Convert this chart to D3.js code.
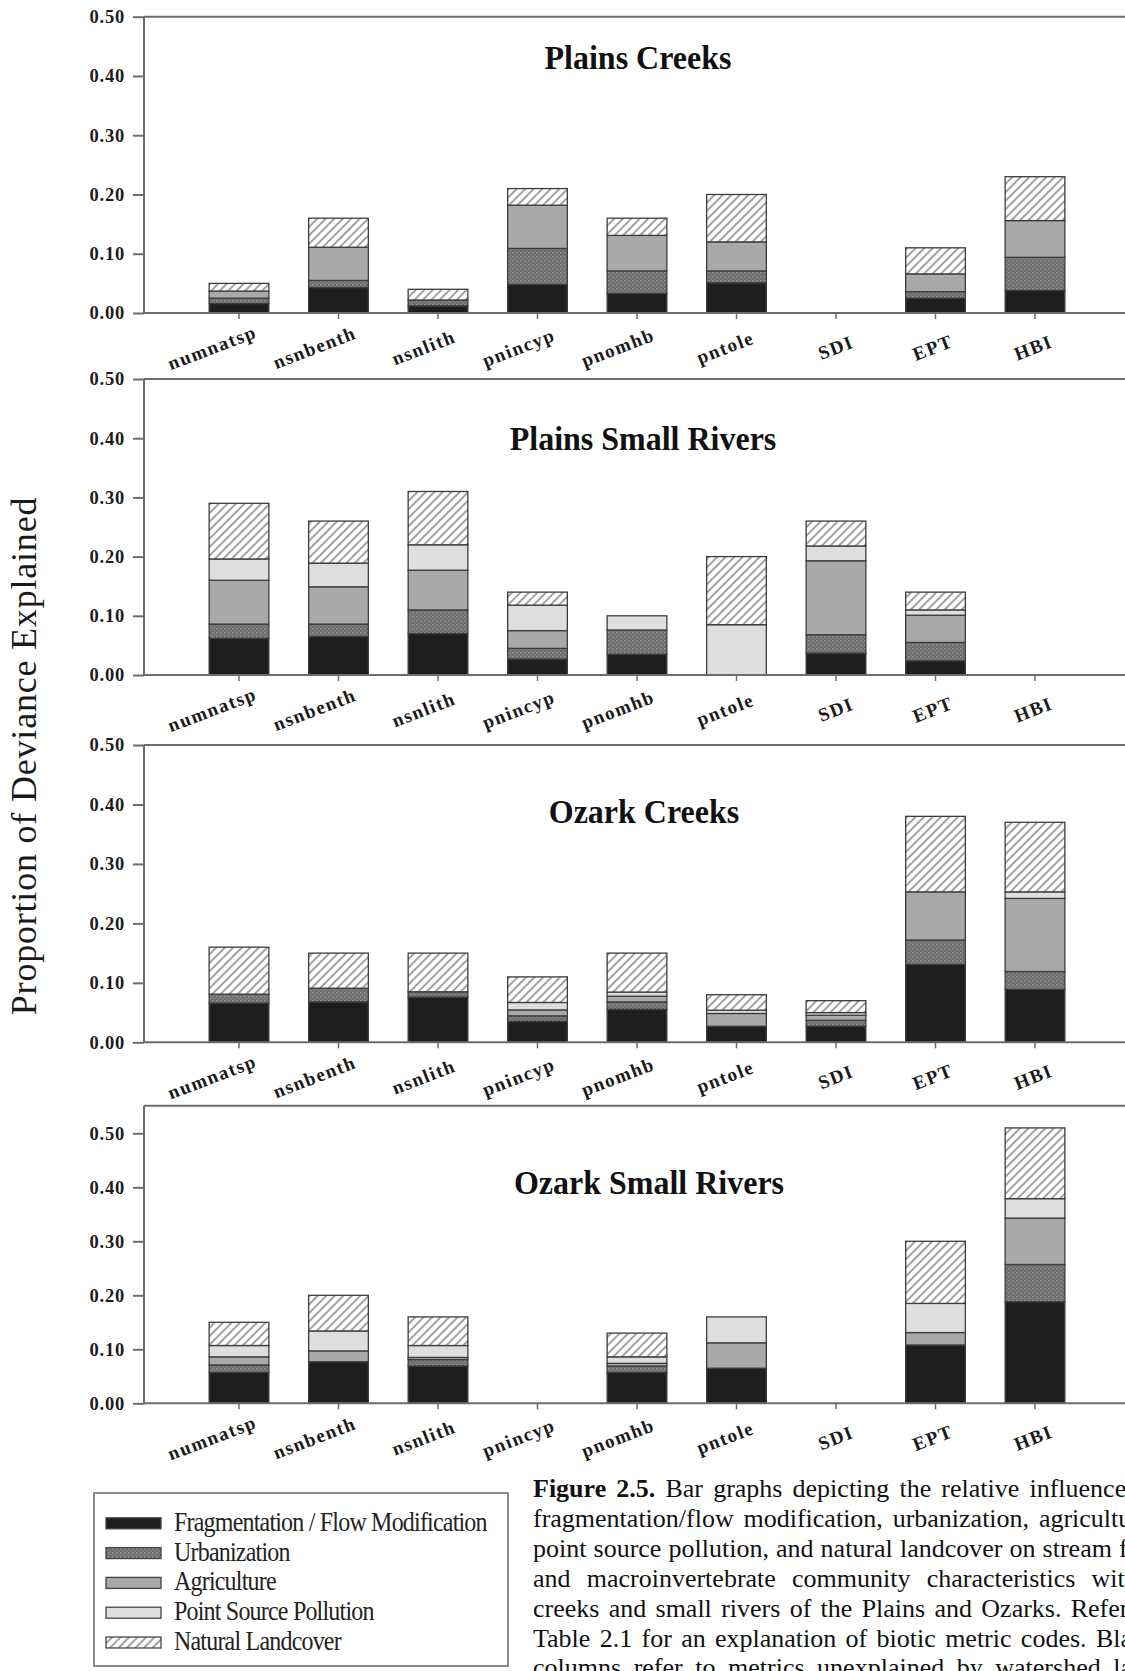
<!DOCTYPE html>
<html>
<head>
<meta charset="utf-8">
<script src="https://cdn.jsdelivr.net/npm/d3@7"></script>
<style>
  html, body { margin: 0; padding: 0; background: #ffffff; }
  svg { display: block; }
</style>
</head>
<body>
<svg id="fig" width="1125" height="1671"></svg>
<script>
// ---- Data -------------------------------------------------------------
const categories = ["numnatsp", "nsnbenth", "nsnlith", "pnincyp", "pnomhb", "pntole", "SDI", "EPT", "HBI"];
const factorKeys = ["frag", "urban", "agri", "ps", "nat"];
const factorNames = ["Fragmentation / Flow Modification", "Urbanization", "Agriculture",
                     "Point Source Pollution", "Natural Landcover"];
const panelTitles = ["Plains Creeks", "Plains Small Rivers", "Ozark Creeks", "Ozark Small Rivers"];
const yTickValues = [0, 0.1, 0.2, 0.3, 0.4, 0.5];

// Plains Creeks
const plainsCreeksFrag  = [0.016, 0.043, 0.012, 0.048, 0.033, 0.051, 0, 0.025, 0.038];
const plainsCreeksUrban = [0.009, 0.012, 0.010, 0.061, 0.038, 0.020, 0, 0.011, 0.056];
const plainsCreeksAgri  = [0.012, 0.056, 0.000, 0.073, 0.060, 0.049, 0, 0.030, 0.062];
const plainsCreeksPS    = [0, 0, 0, 0, 0, 0, 0, 0, 0];
const plainsCreeksNat   = [0.013, 0.049, 0.018, 0.028, 0.029, 0.080, 0, 0.044, 0.074];

// Plains Small Rivers
const plainsRiversFrag  = [0.062, 0.065, 0.070, 0.027, 0.035, 0.000, 0.037, 0.024, 0];
const plainsRiversUrban = [0.024, 0.021, 0.040, 0.018, 0.041, 0.000, 0.031, 0.031, 0];
const plainsRiversAgri  = [0.074, 0.063, 0.067, 0.030, 0.000, 0.000, 0.125, 0.046, 0];
const plainsRiversPS    = [0.036, 0.040, 0.043, 0.043, 0.024, 0.085, 0.025, 0.009, 0];
const plainsRiversNat   = [0.094, 0.071, 0.090, 0.022, 0.000, 0.115, 0.042, 0.030, 0];

// Ozark Creeks
const ozarkCreeksFrag  = [0.066, 0.068, 0.076, 0.035, 0.0555, 0.027, 0.027, 0.131, 0.089];
const ozarkCreeksUrban = [0.015, 0.023, 0.009, 0.0095, 0.0125, 0.000, 0.010, 0.041, 0.030];
const ozarkCreeksAgri  = [0.000, 0.000, 0.000, 0.010, 0.0095, 0.0215, 0.0085, 0.081, 0.123];
const ozarkCreeksPS    = [0.000, 0.000, 0.000, 0.0125, 0.007, 0.0055, 0.0045, 0.000, 0.011];
const ozarkCreeksNat   = [0.079, 0.059, 0.065, 0.043, 0.0655, 0.026, 0.020, 0.127, 0.117];

// Ozark Small Rivers
const ozarkRiversFrag  = [0.057, 0.077, 0.069, 0, 0.057, 0.065, 0, 0.108, 0.188];
const ozarkRiversUrban = [0.014, 0.000, 0.012, 0, 0.012, 0.000, 0, 0.000, 0.069];
const ozarkRiversAgri  = [0.015, 0.020, 0.004, 0, 0.005, 0.047, 0, 0.023, 0.086];
const ozarkRiversPS    = [0.021, 0.037, 0.022, 0, 0.012, 0.048, 0, 0.054, 0.036];
const ozarkRiversNat   = [0.043, 0.066, 0.053, 0, 0.044, 0.000, 0, 0.115, 0.131];

const captionLines = [
  ["Figure 2.5.", " Bar graphs depicting the relative influence of"],
  ["", "fragmentation/flow modification, urbanization, agriculture,"],
  ["", "point source pollution, and natural landcover on stream fish"],
  ["", "and macroinvertebrate community characteristics within"],
  ["", "creeks and small rivers of the Plains and Ozarks. Refer to"],
  ["", "Table 2.1 for an explanation of biotic metric codes. Blank"],
  ["", "columns refer to metrics unexplained by watershed land"]
];

const panelSeries = [
  [plainsCreeksFrag, plainsCreeksUrban, plainsCreeksAgri, plainsCreeksPS, plainsCreeksNat],
  [plainsRiversFrag, plainsRiversUrban, plainsRiversAgri, plainsRiversPS, plainsRiversNat],
  [ozarkCreeksFrag, ozarkCreeksUrban, ozarkCreeksAgri, ozarkCreeksPS, ozarkCreeksNat],
  [ozarkRiversFrag, ozarkRiversUrban, ozarkRiversAgri, ozarkRiversPS, ozarkRiversNat]
];

// ---- Layout -----------------------------------------------------------
const W = 1125;
const axisX = 144;
const layout = [
  { top: 16.7,   zero: 313,    at50: 16.7,   titleX: 638, titleY: 69 },
  { top: 379,    zero: 675,    at50: 379,    titleX: 643, titleY: 450 },
  { top: 745,    zero: 1042.3, at50: 745,    titleX: 644, titleY: 823 },
  { top: 1105.7, zero: 1403.3, at50: 1133.3, titleX: 649, titleY: 1194 }
];
const serif = "'Liberation Serif', 'Times New Roman', Times, serif";
const lineGray = "#6c6c6c";

const svg = d3.select("#fig");
const defs = svg.append("defs");

// urbanization: speckled mid-gray
const pu = defs.append("pattern").attr("id", "pat-urban")
  .attr("patternUnits", "userSpaceOnUse").attr("width", 4).attr("height", 4);
pu.append("rect").attr("width", 4).attr("height", 4).attr("fill", "#6e6e6e");
pu.append("rect").attr("x", 0).attr("y", 0).attr("width", 1.4).attr("height", 1.4).attr("fill", "#9a9a9a");
pu.append("rect").attr("x", 2).attr("y", 2).attr("width", 1.4).attr("height", 1.4).attr("fill", "#8a8a8a");

// natural landcover: diagonal hatch
const ph = defs.append("pattern").attr("id", "pat-hatch")
  .attr("patternUnits", "userSpaceOnUse").attr("width", 6).attr("height", 6)
  .attr("patternTransform", "rotate(45)");
ph.append("rect").attr("width", 6).attr("height", 6).attr("fill", "#ffffff");
ph.append("line").attr("x1", 1).attr("y1", 0).attr("x2", 1).attr("y2", 6)
  .attr("stroke", "#8a8a8a").attr("stroke-width", 1.6);

const fills = {
  frag: "#1e1e1e",
  urban: "url(#pat-urban)",
  agri: "#a9a9a9",
  ps: "#dedede",
  nat: "url(#pat-hatch)"
};

const x = d3.scaleBand()
  .domain(categories)
  .range([189.25, 1084.75])
  .paddingInner(0.4)
  .paddingOuter(0.2);

const stack = d3.stack().keys(factorKeys);

panelSeries.forEach((series, pi) => {
  const L = layout[pi];
  const y = d3.scaleLinear().domain([0, 0.5]).range([L.zero, L.at50]);
  const g = svg.append("g").attr("class", "panel");

  const rows = categories.map((c, i) => {
    const r = { category: c };
    factorKeys.forEach((k, j) => { r[k] = series[j][i]; });
    return r;
  });
  const stacked = stack(rows);

  // frame: top rule
  g.append("line").attr("x1", axisX).attr("x2", W + 10)
    .attr("y1", L.top).attr("y2", L.top)
    .attr("stroke", lineGray).attr("stroke-width", 2);

  // stacked bars
  stacked.forEach(layer => {
    g.append("g").selectAll("rect")
      .data(layer.filter(d => d[1] - d[0] > 0))
      .join("rect")
      .attr("x", d => x(d.data.category))
      .attr("width", x.bandwidth())
      .attr("y", d => y(d[1]))
      .attr("height", d => y(d[0]) - y(d[1]))
      .attr("fill", fills[layer.key])
      .attr("stroke", "#3c3c3c")
      .attr("stroke-width", 1.3);
  });

  // y axis
  const ya = g.append("g").attr("transform", `translate(${axisX},0)`)
    .call(d3.axisLeft(y).tickValues(yTickValues).tickFormat(d3.format(".2f"))
      .tickSize(11).tickPadding(8).tickSizeOuter(0));
  ya.select(".domain").remove();
  ya.selectAll(".tick line").attr("stroke", lineGray).attr("stroke-width", 2);
  ya.selectAll(".tick text")
    .attr("font-family", serif).attr("font-weight", "bold").attr("font-size", 18.5)
    .attr("letter-spacing", "0.8px").attr("fill", "#1c1c1c");
  g.append("line").attr("x1", axisX).attr("x2", axisX)
    .attr("y1", L.top).attr("y2", L.zero + 1)
    .attr("stroke", lineGray).attr("stroke-width", 2);
  g.append("line").attr("x1", axisX).attr("x2", W + 10)
    .attr("y1", L.zero).attr("y2", L.zero)
    .attr("stroke", lineGray).attr("stroke-width", 2);

  // x axis ticks
  const xa = g.append("g").attr("transform", `translate(0,${L.zero})`)
    .call(d3.axisBottom(x).tickSize(6).tickSizeOuter(0).tickFormat(""));
  xa.select(".domain").remove();
  xa.selectAll(".tick line").attr("stroke", lineGray).attr("stroke-width", 1.5);

  // slanted category labels
  const ang = 21 * Math.PI / 180;
  g.append("g").selectAll("text")
    .data(categories)
    .join("text")
    .text(d => d)
    .attr("font-family", serif).attr("font-weight", "bold").attr("font-size", 19)
    .attr("letter-spacing", "1.5px").attr("fill", "#1a1a1a")
    .attr("text-anchor", "end")
    .each(function (d) {
      const len = this.getComputedTextLength();
      const cx = x(d) + x.bandwidth() / 2;
      const ex = cx + 19;
      const ey = L.zero + 35 - (len / 2) * Math.sin(ang) + 6 * Math.cos(ang);
      d3.select(this).attr("transform", `translate(${ex},${ey}) rotate(-21)`);
    });

  // panel title
  g.append("text")
    .attr("transform", `translate(${L.titleX},${L.titleY}) scale(1,1.08)`)
    .attr("text-anchor", "middle")
    .attr("font-family", serif).attr("font-weight", "bold").attr("font-size", 32)
    .attr("fill", "#111")
    .text(panelTitles[pi]);
});

// shared y-axis label
svg.append("text")
  .attr("transform", "translate(36,756) rotate(-90)")
  .attr("text-anchor", "middle")
  .attr("font-family", serif).attr("font-size", 36).attr("letter-spacing", "0.8px")
  .attr("fill", "#1a1a1a")
  .text("Proportion of Deviance Explained");

// legend
const lg = svg.append("g").attr("class", "legend");
lg.append("rect").attr("x", 94).attr("y", 1493).attr("width", 414).attr("height", 173)
  .attr("fill", "#fff").attr("stroke", "#8c8c8c").attr("stroke-width", 2);
factorKeys.forEach((k, i) => {
  const cy = 1523.3 + i * 29.8;
  lg.append("rect").attr("x", 106).attr("y", cy - 5.5).attr("width", 55).attr("height", 11)
    .attr("fill", fills[k]).attr("stroke", "#444").attr("stroke-width", 1.3);
  lg.append("text").attr("transform", `translate(174,${cy + 7.5}) scale(1,1.1)`)
    .attr("font-family", serif).attr("font-size", 24).attr("letter-spacing", "-0.8px")
    .attr("fill", "#222")
    .text(factorNames[i]);
});

// caption, justified to a common right edge
const capX = 533, capRight = 1158, capTop = 1497, capLead = 29.9;
captionLines.forEach((ln, i) => {
  const t = svg.append("text").attr("x", capX).attr("y", capTop + i * capLead)
    .attr("font-family", serif).attr("font-size", 26).attr("fill", "#111");
  if (ln[0]) t.append("tspan").attr("font-weight", "bold").text(ln[0]);
  t.append("tspan").text(ln[1]);
  const full = ln[0] + ln[1];
  const spaces = (full.match(/ /g) || []).length;
  const len = t.node().getComputedTextLength();
  if (spaces > 0) t.attr("word-spacing", ((capRight - capX - len) / spaces) + "px");
});
</script>
</body>
</html>
